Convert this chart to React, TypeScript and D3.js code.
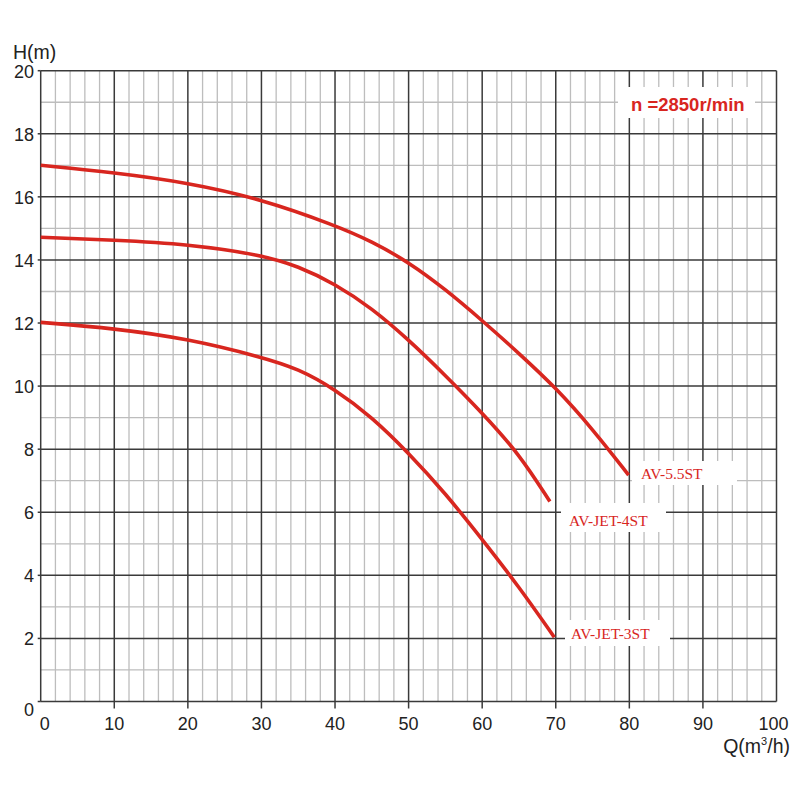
import React from "react";
import * as d3 from "d3";

const qTicks = [0, 10, 20, 30, 40, 50, 60, 70, 80, 90, 100];
const hTicks = [0, 2, 4, 6, 8, 10, 12, 14, 16, 18, 20];

const q55 = [0, 10, 20, 30, 40, 45, 50, 55, 60, 65, 70, 75, 79.9];
const h55 = [17, 16.77, 16.45, 15.93, 15.1, 14.59, 13.93, 13.07, 12.08, 11.04, 9.95, 8.64, 7.18];

const q4 = [0, 10, 20, 30, 35, 40, 45, 50, 55, 60, 65, 69.2];
const h4 = [14.72, 14.63, 14.5, 14.16, 13.8, 13.24, 12.47, 11.47, 10.34, 9.15, 7.86, 6.34];

const q3 = [0, 10, 20, 30, 35, 40, 45, 50, 55, 60, 65, 69.8];
const h3 = [12.02, 11.83, 11.5, 10.92, 10.55, 9.9, 9.02, 7.88, 6.6, 5.14, 3.64, 2.04];

const seriesNames = ["AV-5.5ST", "AV-JET-4ST", "AV-JET-3ST"];
const speedLabel = "n =2850r/min";

export default function App() {
  const x = d3.scaleLinear().domain([0, 100]).range([40.7, 776.5]);
  const y = d3.scaleLinear().domain([0, 20]).range([701.5, 70.7]);
  const line = d3
    .line<[number, number]>()
    .x((d) => x(d[0]))
    .y((d) => y(d[1]))
    .curve(d3.curveBasis);

  const series = [
    { q: q55, h: h55 },
    { q: q4, h: h4 },
    { q: q3, h: h3 },
  ];

  const minorX = d3.range(0, 101, 2).filter((v) => v % 10 !== 0);
  const minorY = d3.range(0, 21, 1).filter((v) => v % 2 !== 0);
  const red = "#d8261f";
  const sans = "Liberation Sans, Arial, sans-serif";
  const serif = "Liberation Serif, Times New Roman, serif";

  const labelBoxes = [
    { x0: 632, x1: 737, y0: 461, y1: 485, tx: 641, ty: 478.5 },
    { x0: 561, x1: 666, y0: 503, y1: 532, tx: 569, ty: 525.5 },
    { x0: 565, x1: 670, y0: 620, y1: 646, tx: 571, ty: 638.5 },
  ];

  return (
    <svg
      width={800}
      height={800}
      style={{ position: "absolute", left: 0, top: 0, background: "#fff" }}
    >
      <rect x={0} y={0} width={800} height={800} fill="#fff" />
      {minorX.map((v) => (
        <line key={"mx" + v} x1={x(v)} x2={x(v)} y1={y(0)} y2={y(20)} stroke="#bdbdbd" strokeWidth={1.3} />
      ))}
      {minorY.map((v) => (
        <line key={"my" + v} x1={x(0)} x2={x(100)} y1={y(v)} y2={y(v)} stroke="#bdbdbd" strokeWidth={1.3} />
      ))}
      {qTicks.map((v) => (
        <line key={"Mx" + v} x1={x(v)} x2={x(v)} y1={y(0)} y2={y(20)} stroke="#3a3a3a" strokeWidth={1.5} />
      ))}
      {hTicks.map((v) => (
        <line key={"My" + v} x1={x(0)} x2={x(100)} y1={y(v)} y2={y(v)} stroke="#3a3a3a" strokeWidth={1.5} />
      ))}
      {hTicks.map((v) => (
        <line key={"ty" + v} x1={x(0) - 3} x2={x(0)} y1={y(v)} y2={y(v)} stroke="#3a3a3a" strokeWidth={1.5} />
      ))}
      {qTicks.filter((v) => v > 0 && v < 100).map((v) => (
        <line key={"tx" + v} x1={x(v)} x2={x(v)} y1={y(0)} y2={y(0) + 7} stroke="#3a3a3a" strokeWidth={1.5} />
      ))}
      {hTicks.map((v) => (
        <text
          key={"ly" + v}
          x={34}
          y={y(v) + (v === 0 ? 14 : 7)}
          textAnchor="end"
          fontFamily={sans}
          fontSize={18}
          fill="#222"
        >
          {v}
        </text>
      ))}
      {qTicks.map((v) => (
        <text
          key={"lx" + v}
          x={x(v) + (v === 0 ? 4 : v === 100 ? -3 : 0)}
          y={729.5}
          textAnchor="middle"
          fontFamily={sans}
          fontSize={18}
          fill="#222"
        >
          {v}
        </text>
      ))}
      <text x={13} y={59} fontFamily={sans} fontSize={19.5} fill="#222">
        H(m)
      </text>
      <text x={790} y={753} textAnchor="end" fontFamily={sans} fontSize={19.5} fill="#222">
        Q(m<tspan fontSize={11} dy={-8}>3</tspan>
        <tspan dy={8}>/h)</tspan>
      </text>
      <rect x={618} y={87} width={137} height={31} fill="#fff" />
      <text x={631} y={110.5} fontFamily={sans} fontSize={18.5} fontWeight="bold" fill={red}>
        {speedLabel}
      </text>
      {series.map((s, i) => (
        <path
          key={"c" + i}
          d={line(s.q.map((q, j) => [q, s.h[j]] as [number, number])) || ""}
          fill="none"
          stroke={red}
          strokeWidth={3.6}
          strokeLinecap="butt"
        />
      ))}
      {labelBoxes.map((b, i) => (
        <g key={"lb" + i}>
          <rect x={b.x0} y={b.y0} width={b.x1 - b.x0} height={b.y1 - b.y0} fill="#fff" />
          <text x={b.tx} y={b.ty} fontFamily={serif} fontSize={15.5} fill={red}>
            {seriesNames[i]}
          </text>
        </g>
      ))}
    </svg>
  );
}
